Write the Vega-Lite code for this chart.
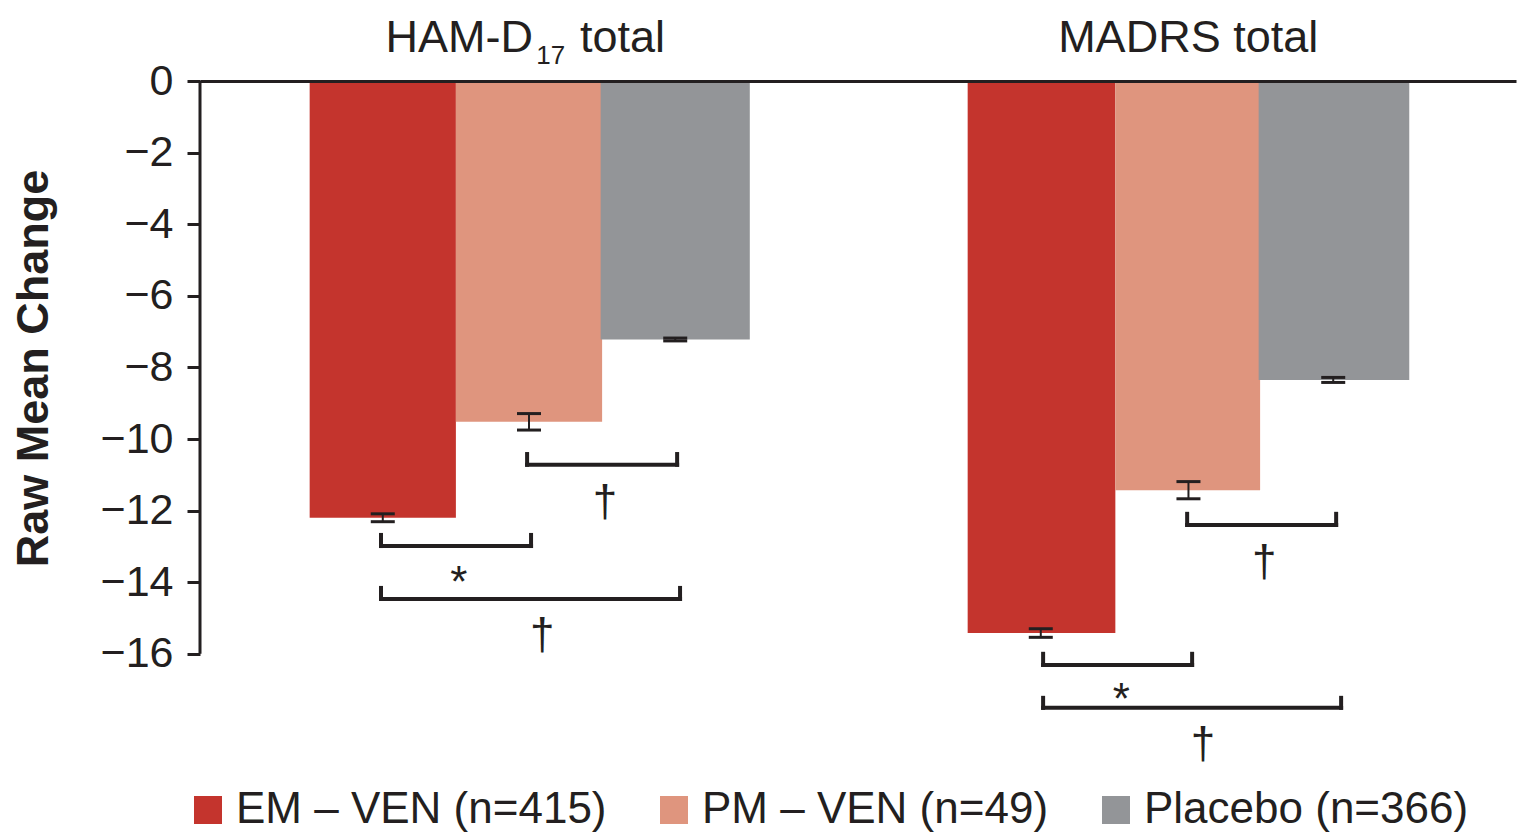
{
  "$schema": "https://vega.github.io/schema/vega-lite/v6.json",
  "width": 1316,
  "height": 716,
  "autosize": {"type": "none"},
  "padding": {"left": 200, "top": 81, "right": 10, "bottom": 35},
  "background": "white",
  "config": {
    "view": {"stroke": null},
    "font": "Liberation Sans",
    "legend": {
      "orient": "none",
      "legendX": -14,
      "legendY": 707,
      "direction": "horizontal",
      "columns": 3,
      "padding": 0,
      "symbolType": "square",
      "symbolSize": 784,
      "symbolStrokeWidth": 0,
      "symbolOpacity": 1,
      "labelFontSize": 44,
      "labelOffset": 6,
      "columnPadding": 45,
      "labelColor": "#231F20",
      "labelLimit": 0
    }
  },
  "datasets": {
    "bars": [
      {"scale": "HAM-D17", "group": "EM – VEN (n=415)", "x0": 0.75, "x1": 1.75, "xc": 1.25, "mean": -12.2, "se": 0.11},
      {"scale": "HAM-D17", "group": "PM – VEN (n=49)", "x0": 1.75, "x1": 2.75, "xc": 2.25, "mean": -9.52, "se": 0.23},
      {"scale": "HAM-D17", "group": "Placebo (n=366)", "x0": 2.74, "x1": 3.76, "xc": 3.25, "mean": -7.22, "se": 0.04},
      {"scale": "MADRS", "group": "EM – VEN (n=415)", "x0": 5.25, "x1": 6.26, "xc": 5.75, "mean": -15.42, "se": 0.12},
      {"scale": "MADRS", "group": "PM – VEN (n=49)", "x0": 6.26, "x1": 7.25, "xc": 6.76, "mean": -11.43, "se": 0.24},
      {"scale": "MADRS", "group": "Placebo (n=366)", "x0": 7.24, "x1": 8.27, "xc": 7.75, "mean": -8.35, "se": 0.07}
    ],
    "brackets": [
      {"scale": "HAM-D17", "pair": "EM vs PM", "x1": 1.238, "x2": 2.264, "y": -12.99, "ytop": -12.68},
      {"scale": "HAM-D17", "pair": "EM vs Placebo", "x1": 1.238, "x2": 3.283, "y": -14.47, "ytop": -14.16},
      {"scale": "HAM-D17", "pair": "PM vs Placebo", "x1": 2.237, "x2": 3.263, "y": -10.72, "ytop": -10.42},
      {"scale": "MADRS", "pair": "PM vs Placebo", "x1": 6.751, "x2": 7.77, "y": -12.4, "ytop": -12.09},
      {"scale": "MADRS", "pair": "EM vs PM", "x1": 5.766, "x2": 6.785, "y": -16.31, "ytop": -16.0},
      {"scale": "MADRS", "pair": "EM vs Placebo", "x1": 5.766, "x2": 7.804, "y": -17.51, "ytop": -17.23}
    ],
    "marks": [
      {"label": "*", "x": 1.77, "y": -14.41},
      {"label": "†", "x": 2.77, "y": -12.15},
      {"label": "†", "x": 2.34, "y": -15.86},
      {"label": "*", "x": 6.3, "y": -17.68},
      {"label": "†", "x": 7.278, "y": -13.82},
      {"label": "†", "x": 6.86, "y": -18.9}
    ]
  },
  "layer": [
    {
      "data": {"name": "bars"},
      "mark": {"type": "rect"},
      "encoding": {
        "x": {
          "field": "x0", "type": "quantitative",
          "scale": {"domain": [0, 9], "nice": false, "zero": false},
          "axis": {"orient": "top", "domain": true, "domainColor": "#231F20", "domainWidth": 3, "ticks": false, "labels": false, "grid": false, "title": null, "zindex": 1}
        },
        "x2": {"field": "x1"},
        "y": {
          "field": "mean", "type": "quantitative",
          "title": "Raw Mean Change",
          "scale": {"domain": [-20, 0], "nice": false, "zero": false},
          "axis": {
            "values": [-16, -14, -12, -10, -8, -6, -4, -2, 0],
            "domain": false, "grid": false,
            "tickColor": "#231F20", "tickWidth": 3, "tickSize": 13,
            "labelFontSize": 43, "labelColor": "#231F20", "labelPadding": 14,
            "titleFontSize": 45, "titleFontWeight": "bold",
            "titleColor": "#231F20", "titleX": -167, "titleY": 287,
            "titleAngle": -90, "titleAlign": "center", "titleBaseline": "middle", "zindex": 1
          }
        },
        "y2": {"datum": 0},
        "color": {
          "field": "group", "type": "nominal",
          "scale": {"domain": ["EM – VEN (n=415)", "PM – VEN (n=49)", "Placebo (n=366)"], "range": ["#C4342D", "#DF957E", "#939598"]},
          "legend": {"title": null}
        }
      }
    },
    {
      "data": {"values": [{}]},
      "mark": {"type": "rule", "strokeWidth": 3, "color": "#231F20"},
      "encoding": {
        "x": {"datum": 0, "type": "quantitative"},
        "y": {"datum": 0, "type": "quantitative", "title": "Raw Mean Change"},
        "y2": {"datum": -16}
      }
    },
    {
      "data": {"name": "bars"},
      "mark": {"type": "errorbar", "color": "#231F20", "opacity": 1, "thickness": 2, "ticks": {"size": 24, "thickness": 3, "color": "#231F20", "opacity": 1}},
      "encoding": {
        "x": {"field": "xc", "type": "quantitative"},
        "y": {"field": "mean", "type": "quantitative", "title": "Raw Mean Change"},
        "yError": {"field": "se"}
      }
    },
    {
      "data": {"name": "brackets"},
      "mark": {"type": "rule", "strokeWidth": 4, "color": "#231F20", "strokeCap": "square"},
      "encoding": {
        "x": {"field": "x1", "type": "quantitative"},
        "x2": {"field": "x2"},
        "y": {"field": "y", "type": "quantitative", "title": "Raw Mean Change"}
      }
    },
    {
      "data": {"name": "brackets"},
      "mark": {"type": "rule", "strokeWidth": 4, "color": "#231F20", "strokeCap": "square"},
      "encoding": {
        "x": {"field": "x1", "type": "quantitative"},
        "y": {"field": "y", "type": "quantitative", "title": "Raw Mean Change"},
        "y2": {"field": "ytop"}
      }
    },
    {
      "data": {"name": "brackets"},
      "mark": {"type": "rule", "strokeWidth": 4, "color": "#231F20", "strokeCap": "square"},
      "encoding": {
        "x": {"field": "x2", "type": "quantitative"},
        "y": {"field": "y", "type": "quantitative", "title": "Raw Mean Change"},
        "y2": {"field": "ytop"}
      }
    },
    {
      "data": {"name": "marks"},
      "mark": {"type": "text", "fontSize": 44, "color": "#231F20", "align": "center", "baseline": "alphabetic"},
      "encoding": {
        "x": {"field": "x", "type": "quantitative"},
        "y": {"field": "y", "type": "quantitative", "title": "Raw Mean Change"},
        "text": {"field": "label"}
      }
    },
    {
      "data": {"values": [{"text": "MADRS total", "x": 6.758, "y": 0.81}]},
      "mark": {"type": "text", "fontSize": 45, "color": "#231F20", "align": "center", "baseline": "alphabetic"},
      "encoding": {
        "x": {"field": "x", "type": "quantitative"},
        "y": {"field": "y", "type": "quantitative", "title": "Raw Mean Change"},
        "text": {"field": "text"}
      }
    },
    {
      "data": {"values": [{"text": "HAM-D", "x": 2.278, "y": 0.81}]},
      "mark": {"type": "text", "fontSize": 45, "color": "#231F20", "align": "right", "baseline": "alphabetic"},
      "encoding": {
        "x": {"field": "x", "type": "quantitative"},
        "y": {"field": "y", "type": "quantitative", "title": "Raw Mean Change"},
        "text": {"field": "text"}
      }
    },
    {
      "data": {"values": [{"text": "17", "x": 2.3, "y": 0.47}]},
      "mark": {"type": "text", "fontSize": 26, "color": "#231F20", "align": "left", "baseline": "alphabetic"},
      "encoding": {
        "x": {"field": "x", "type": "quantitative"},
        "y": {"field": "y", "type": "quantitative", "title": "Raw Mean Change"},
        "text": {"field": "text"}
      }
    },
    {
      "data": {"values": [{"text": "total", "x": 2.599, "y": 0.81}]},
      "mark": {"type": "text", "fontSize": 45, "color": "#231F20", "align": "left", "baseline": "alphabetic"},
      "encoding": {
        "x": {"field": "x", "type": "quantitative"},
        "y": {"field": "y", "type": "quantitative", "title": "Raw Mean Change"},
        "text": {"field": "text"}
      }
    }
  ]
}
